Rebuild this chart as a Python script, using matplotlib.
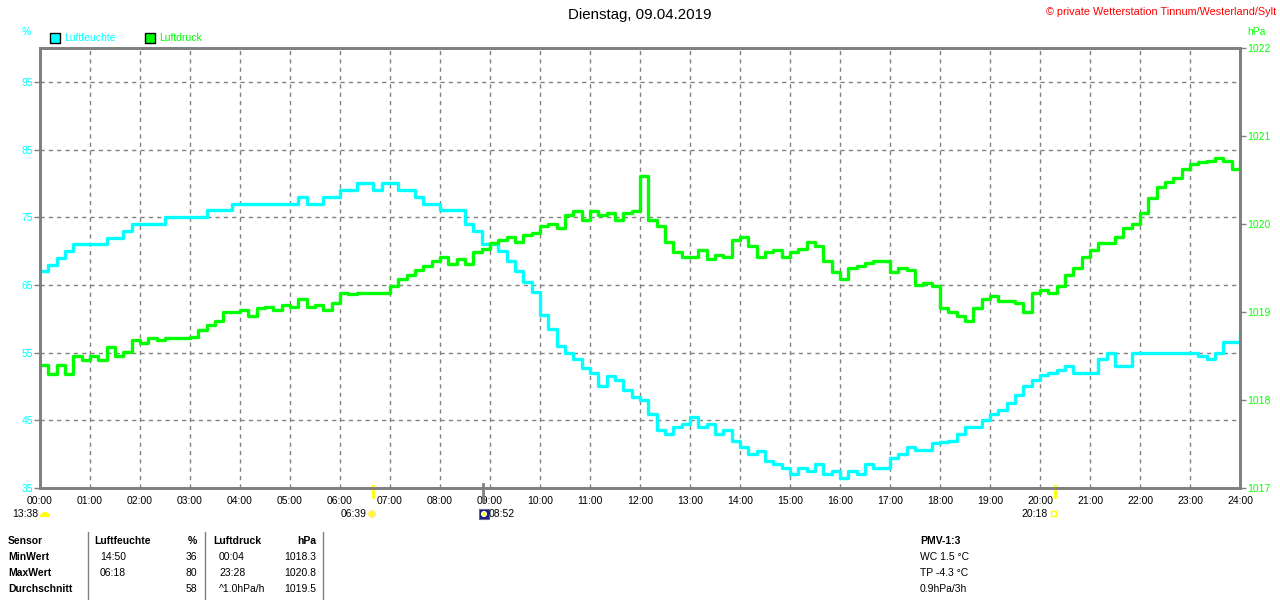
import numpy as np
import matplotlib.pyplot as plt
from matplotlib.patches import Rectangle, Wedge, Circle

plt.rcParams['font.family'] = ['Liberation Sans', 'DejaVu Sans']

# Messwerte alle 10 Minuten (00:00 .. 24:00)
humidity = [
    67, 68, 69, 70, 71, 71,
    71, 71, 72, 72, 73, 74,
    74, 74, 74, 75, 75, 75,
    75, 75, 76, 76, 76, 77,
    77, 77, 77, 77, 77, 77,
    77, 78, 77, 77, 78, 78,
    79, 79, 80, 80, 79, 80,
    80, 79, 79, 78, 77, 77,
    76, 76, 76, 74, 73, 71,
    71, 70, 68.5, 67, 65.5, 64,
    60.5, 58.5, 56, 55, 54, 52.7,
    52, 50, 51.5, 51, 49.5, 48.5,
    48, 46, 43.5, 43, 44, 44.5,
    45.5, 44, 44.5, 43, 43.5, 42,
    41, 40, 40.5, 39, 38.5, 38,
    37, 38, 37.5, 38.5, 37, 37.5,
    36.5, 37.5, 37, 38.5, 38, 38,
    39.5, 40, 41, 40.6, 40.6, 41.6,
    41.8, 42, 43, 44, 44, 45,
    46, 46.5, 47.5, 48.7, 50, 51,
    51.7, 52, 52.5, 53, 52, 52,
    52, 54, 55, 53, 53, 55,
    55, 55, 55, 55, 55, 55,
    55, 54.5, 54, 55, 56.5, 56.5,
    57.8,
]

pressure = [
    1018.40, 1018.30, 1018.40, 1018.30, 1018.50, 1018.45,
    1018.50, 1018.45, 1018.60, 1018.50, 1018.55, 1018.68,
    1018.65, 1018.70, 1018.68, 1018.70, 1018.70, 1018.70,
    1018.72, 1018.80, 1018.85, 1018.90, 1019.00, 1019.00,
    1019.02, 1018.95, 1019.05, 1019.06, 1019.02, 1019.08,
    1019.06, 1019.15, 1019.06, 1019.08, 1019.02, 1019.10,
    1019.22, 1019.20, 1019.22, 1019.22, 1019.22, 1019.22,
    1019.30, 1019.38, 1019.42, 1019.48, 1019.52, 1019.58,
    1019.62, 1019.55, 1019.60, 1019.55, 1019.68, 1019.72,
    1019.78, 1019.82, 1019.85, 1019.80, 1019.87, 1019.90,
    1019.98, 1020.00, 1019.95, 1020.10, 1020.15, 1020.05,
    1020.15, 1020.10, 1020.12, 1020.05, 1020.12, 1020.15,
    1020.55, 1020.05, 1019.98, 1019.80, 1019.68, 1019.62,
    1019.62, 1019.70, 1019.60, 1019.65, 1019.62, 1019.82,
    1019.85, 1019.75, 1019.62, 1019.68, 1019.70, 1019.62,
    1019.68, 1019.72, 1019.80, 1019.75, 1019.58, 1019.45,
    1019.38, 1019.50, 1019.52, 1019.56, 1019.58, 1019.58,
    1019.45, 1019.50, 1019.48, 1019.31, 1019.33, 1019.30,
    1019.05, 1019.00, 1018.95, 1018.90, 1019.05, 1019.15,
    1019.18, 1019.12, 1019.12, 1019.10, 1019.00, 1019.22,
    1019.25, 1019.22, 1019.30, 1019.42, 1019.50, 1019.62,
    1019.70, 1019.78, 1019.78, 1019.85, 1019.95, 1020.00,
    1020.12, 1020.30, 1020.42, 1020.48, 1020.52, 1020.62,
    1020.68, 1020.70, 1020.72, 1020.75, 1020.72, 1020.62,
    1020.70,
]

hour_labels = ['%02d:00' % h for h in range(25)]
hum_ticks = [35, 45, 55, 65, 75, 85, 95]
pres_ticks = [1017, 1018, 1019, 1020, 1021, 1022]

# Sonne / Mond Ereignisse
sunrise, sunset = '06:39', '20:18'
moonrise, moonset = '08:52', '13:38'

table_rows = [
    ['Sensor', 'Luftfeuchte', '%', 'Luftdruck', 'hPa'],
    ['MinWert', '14:50', '36', '00:04', '1018.3'],
    ['MaxWert', '06:18', '80', '23:28', '1020.8'],
    ['Durchschnitt', '', '58', '^1.0hPa/h', '1019.5'],
]
pmv_lines = ['PMV-1:3', 'WC 1.5 °C', 'TP -4.3 °C', '0.9hPa/3h']

CYAN = '#00FFFF'
GREEN = '#00FF00'
GRAY = '#808080'
YELLOW = '#FFFF00'

W, H = 1280, 600
fig = plt.figure(figsize=(12.8, 6), dpi=100)

# Overlay in Pixelkoordinaten fuer Texte und Symbole
ov = fig.add_axes([0, 0, 1, 1], zorder=10)
ov.set_xlim(0, W)
ov.set_ylim(H, 0)
ov.axis('off')


def to_hours(s):
    h, m = s.split(':')
    return int(h) + int(m) / 60


hours = np.arange(len(humidity)) / 6

ax = fig.add_axes([40 / W, 1 - 488 / H, 1200 / W, 440 / H])
ax2 = ax.twinx()

ax.plot(hours, humidity, color=CYAN, lw=2.4, drawstyle='steps-post', zorder=3)
ax2.plot(hours, pressure, color=GREEN, lw=2.4, drawstyle='steps-post')

ax.set_xlim(0, 24)
ax.set_ylim(35, 100)
ax2.set_ylim(1017, 1022)

ax.set_xticks(range(25))
ax.set_xticklabels(hour_labels, fontsize=7.5)
ax.set_yticks(hum_ticks)
ax.set_yticklabels([str(v) for v in hum_ticks], fontsize=7.5)
ax2.set_yticks(pres_ticks)
ax2.set_yticklabels([str(v) for v in pres_ticks], fontsize=7.5)

ax.tick_params(axis='x', length=0, pad=6, labelcolor='black')
ax.tick_params(axis='y', length=4, width=1, color=GRAY, labelcolor=CYAN, pad=1)
ax2.tick_params(axis='y', length=4, width=1, color=GRAY, labelcolor=GREEN, pad=1)

ax.grid(True, color=GRAY, ls=(0, (3, 3)), lw=1)
ax.set_axisbelow(True)
for a in (ax, ax2):
    for sp in a.spines.values():
        sp.set_color(GRAY)
        sp.set_linewidth(2)

# Sonne/Mond Markierungen an der Zeitachse
trans = ax.get_xaxis_transform()
for t in (sunrise, sunset):
    ax.plot([to_hours(t)] * 2, [0.005, -0.02], color=YELLOW, lw=2,
            transform=trans, clip_on=False, zorder=5)
ax.plot([to_hours(moonrise)] * 2, [0.01, -0.03], color=GRAY, lw=2,
        transform=trans, clip_on=False, zorder=5)

# Titel und Beschriftungen
ov.text(W / 2, 15, 'Dienstag, 09.04.2019', ha='center', va='center', fontsize=10.8)
ov.text(1276, 12, '© private Wetterstation Tinnum/Westerland/Sylt',
        ha='right', va='center', fontsize=7.8, color='red')
ov.text(26, 32, '%', ha='center', va='center', fontsize=7.5, color=CYAN)
ov.text(1256, 32, 'hPa', ha='center', va='center', fontsize=7.5, color=GREEN)

# Legende
for x0, col, name in ((50, CYAN, 'Luftfeuchte'), (145, GREEN, 'Luftdruck')):
    ov.add_patch(Rectangle((x0, 33), 10, 10, facecolor=col, edgecolor='black', lw=1))
    ov.text(x0 + 14, 38, name, ha='left', va='center', fontsize=7.5, color=col)

# Zeiten unter der Achse
ov.text(38, 514, moonset, ha='right', va='center', fontsize=7.5)
ov.add_patch(Wedge((45, 517), 5, 180, 360, facecolor=YELLOW))
ov.text(367, 514, sunrise, ha='right', va='center', fontsize=7.5)
ov.add_patch(Circle((372, 514), 3, facecolor=YELLOW, edgecolor='#FFF080', lw=1.5))
ov.add_patch(Rectangle((479, 509), 10, 10, facecolor='#1A1A80', edgecolor='#666699', lw=0.8))
ov.add_patch(Circle((484, 514), 2.5, facecolor=YELLOW, edgecolor='white', lw=0.8))
ov.text(489, 514, moonrise, ha='left', va='center', fontsize=7.5)
ov.text(1048, 514, sunset, ha='right', va='center', fontsize=7.5)
ov.add_patch(Rectangle((1051, 511), 5, 5, facecolor='none', edgecolor=YELLOW, lw=1))

# Tabelle
col_x = [(8, 'left'), (100, 'left'), (197, 'right'), (219, 'left'), (316, 'right')]
row_y = [541, 557, 573, 589]
for r, row in enumerate(table_rows):
    for c, txt in enumerate(row):
        x, ha = col_x[c]
        if r == 0 and c in (1, 3):
            x -= 6
        bold = r == 0 or c == 0
        ov.text(x, row_y[r], txt, ha=ha, va='center', fontsize=7.5,
                fontweight='bold' if bold else 'normal')
for xs in (88, 205, 323):
    ov.plot([xs, xs], [532, 600], color=GRAY, lw=1)

for i, txt in enumerate(pmv_lines):
    ov.text(920, row_y[i], txt, ha='left', va='center', fontsize=7.5,
            fontweight='bold' if i == 0 else 'normal')

fig.savefig('out.png', dpi=100)
